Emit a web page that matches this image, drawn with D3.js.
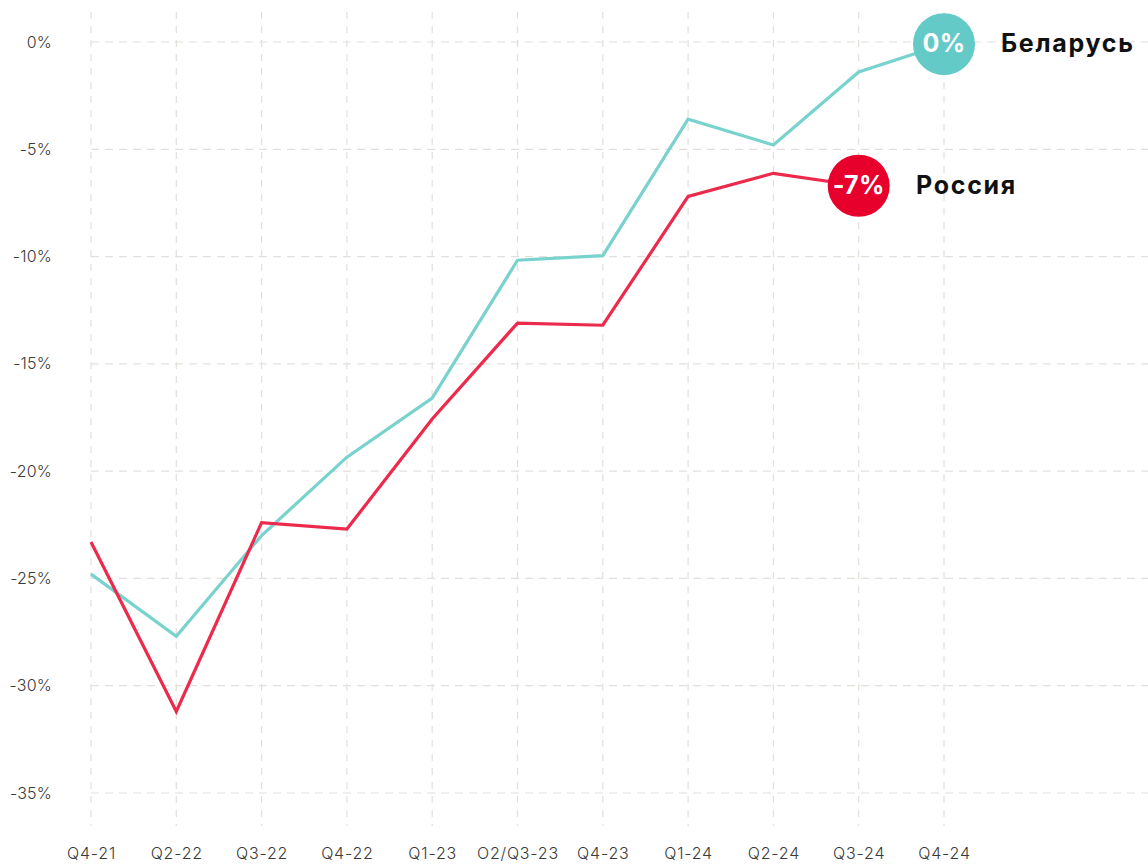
<!DOCTYPE html>
<html><head><meta charset="utf-8">
<script src="https://cdn.jsdelivr.net/npm/d3@7"></script>
<style>
html,body{margin:0;padding:0;background:#fff;}
svg{display:block;font-family:Inter,"Open Sans",sans-serif;}
</style></head>
<body>
<svg id="chart" width="1148" height="865"></svg>
<script>
const categories = ["Q4-21","Q2-22","Q3-22","Q4-22","Q1-23","O2/Q3-23","Q4-23","Q1-24","Q2-24","Q3-24","Q4-24"];
const belarus = [-24.8,-27.7,-23.0,-19.35,-16.6,-10.17,-9.96,-3.6,-4.8,-1.4,-0.1];
const russia  = [-23.3,-31.2,-22.4,-22.7,-17.57,-13.1,-13.2,-7.2,-6.12,-6.7,null];
const yTicks = [0,-5,-10,-15,-20,-25,-30,-35];
const seriesNames = ["Беларусь","Россия"];
const endLabels = ["0%","-7%"];

const svg = d3.select("#chart");
const x = d3.scalePoint().domain(categories).range([91,944]);
const y = d3.scaleLinear().domain([-35,0]).range([793,42]);

const gridColor = "#e3dfdb";
svg.append("g").selectAll("line").data(yTicks).join("line")
  .attr("x1",91).attr("x2",1148)
  .attr("y1",d=>y(d)).attr("y2",d=>y(d))
  .attr("stroke",gridColor).attr("stroke-width",1.2).attr("stroke-dasharray","8,6");
svg.append("g").selectAll("line").data(categories).join("line")
  .attr("x1",d=>x(d)).attr("x2",d=>x(d))
  .attr("y1",12).attr("y2",826)
  .attr("stroke",gridColor).attr("stroke-width",1.2).attr("stroke-dasharray","7,7");

const yAxis = d3.axisLeft(y).tickValues(yTicks).tickFormat(d=>d+"%").tickSize(0).tickPadding(0);
const gy = svg.append("g").attr("transform","translate(52,0)").call(yAxis);
gy.select(".domain").remove();
gy.selectAll("text").attr("font-size",16).attr("font-weight",300).attr("fill","#3a3a3a")
  .attr("font-family","Inter,sans-serif").attr("letter-spacing",0.2);

const xAxis = d3.axisBottom(x).tickSize(0).tickPadding(0);
const gx = svg.append("g").attr("transform","translate(0,848)").call(xAxis);
gx.select(".domain").remove();
gx.selectAll("text").attr("font-size",16).attr("font-weight",300).attr("fill","#3a3a3a")
  .attr("font-family","Inter,sans-serif").attr("letter-spacing",0.8);

const line = d3.line().defined(d=>d.v!==null).x(d=>x(d.c)).y(d=>y(d.v));
const mk = arr => categories.map((c,i)=>({c,v:arr[i]}));

svg.append("path").datum(mk(belarus)).attr("d",line)
  .attr("fill","none").attr("stroke","#78d2ce").attr("stroke-width",3.2).attr("stroke-linejoin","miter");
svg.append("path").datum(mk(russia)).attr("d",line)
  .attr("fill","none").attr("stroke","#ec2a4c").attr("stroke-width",3.2).attr("stroke-linejoin","miter");

const ends = [
  {c:categories[10], v:belarus[10], fill:"#63cac7", label:endLabels[0], name:seriesNames[0], nx:1001, ls:1.7},
  {c:categories[9], v:russia[9], fill:"#e8002d", label:endLabels[1], name:seriesNames[1], nx:916, ls:1.7}
];
const ge = svg.append("g").selectAll("g").data(ends).join("g")
  .attr("transform",d=>`translate(${x(d.c)},${y(d.v)})`);
ge.append("circle").attr("r",31).attr("fill",d=>d.fill);
ge.append("text").text(d=>d.label).attr("text-anchor","middle").attr("dy","0.33em")
  .attr("fill","#fff").attr("font-size",25).attr("font-weight",700).attr("letter-spacing",0.3);
ge.append("text").text(d=>d.name).attr("x",d=>d.nx - x(d.c)).attr("dy","0.33em")
  .attr("fill","#111").attr("font-size",25).attr("font-weight",700).attr("letter-spacing",d=>d.ls);
</script>
</body></html>
